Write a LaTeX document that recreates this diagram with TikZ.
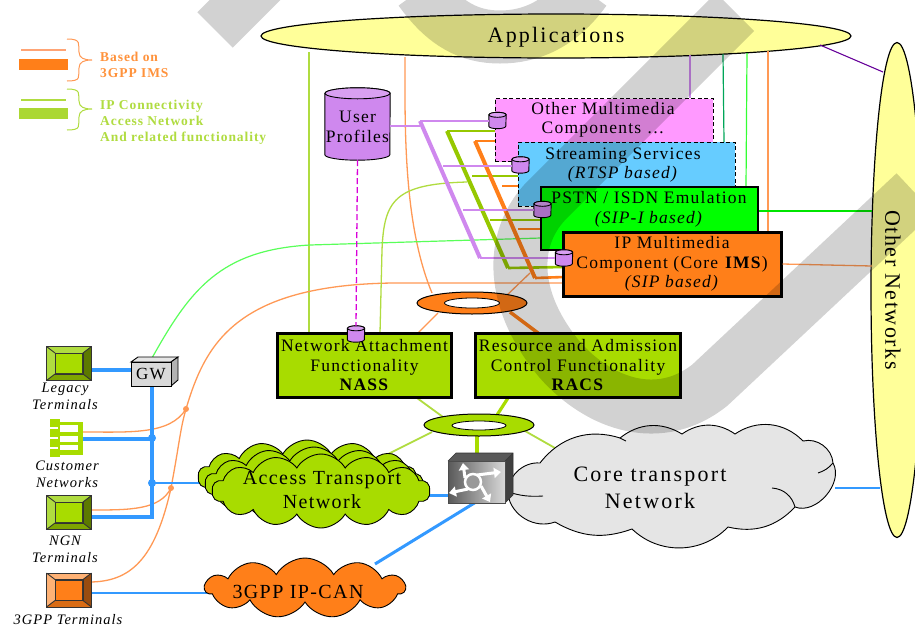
\documentclass[tikz,border=0pt]{standalone}
\usepackage{fontspec}
\usepackage{xcolor}
\usepackage{tikz}
\usetikzlibrary{shapes.geometric,shapes.symbols,arrows.meta}
\setmainfont[LetterSpace=7]{Liberation Serif}
\newfontfamily\bigfont[LetterSpace=10]{Liberation Serif}

\definecolor{appyellow}{HTML}{FFFF99}
\definecolor{imsorange}{HTML}{FF7F19}
\definecolor{thinorange}{HTML}{FF9955}
\definecolor{nassgreen}{HTML}{A8DC00}
\definecolor{thingreen}{HTML}{B0DC40}
\definecolor{bargreen}{HTML}{96C800}
\definecolor{udfpurple}{HTML}{CF88EE}
\definecolor{netblue}{HTML}{3399FF}
\definecolor{wmgray}{HTML}{D2D2D2}
\definecolor{otherpink}{HTML}{FF99FF}
\definecolor{streamblue}{HTML}{66CCFF}

\tikzset{
  boxtext/.style={font=\fontsize{17.5}{19.5}\selectfont,align=center,inner sep=0pt},
  termtext/.style={font=\fontsize{14.5}{17}\selectfont\itshape,align=center,inner sep=0pt},
  solidbox/.style={draw,line width=2.5pt,boxtext},
  dashbox/.style={draw,line width=1pt,dash pattern=on 4pt off 2.5pt,boxtext},
  ring/.style={ellipse,draw,line width=1pt,inner sep=0pt},
  hole/.style={ellipse,draw,fill=white,line width=.8pt,inner sep=0pt},
  netcloud/.style={cloud,draw,line width=.9pt,inner sep=0pt,align=center},
  termnode/.style={draw=black!80,line width=.9pt,inner sep=0pt,minimum width=44pt,minimum height=33pt},
  terminner/.style={draw=black!80,line width=.9pt,inner sep=0pt,minimum width=27pt,minimum height=20pt},
  blueline/.style={draw=netblue,line width=3.5pt},
  thinor/.style={draw=thinorange,line width=1.3pt},
  thingr/.style={draw=thingreen,line width=1.3pt},
  barline/.style={line width=4pt},
  branch/.style={line width=2.6pt},
  legendtext/.style={font=\fontsize{13.5}{16}\selectfont\bfseries,align=left,inner sep=0pt,anchor=west},
  dotnode/.style={circle,inner sep=0pt,minimum size=#1}
}

% terminal icon with bevelled edges
\newcommand{\termbox}[7]{
  \node[termnode,fill=#4] (#1) at (#2,#3) {};
  \node[terminner,fill=#4] (#1i) at (#2,#3) {};
  \fill[#5] (#1.north west)--(#1.north east)--(#1i.north east)--(#1i.north west)--cycle;
  \fill[#5] (#1.north west)--(#1.south west)--(#1i.south west)--(#1i.north west)--cycle;
  \fill[#6] (#1.north east)--(#1.south east)--(#1i.south east)--(#1i.north east)--cycle;
  \fill[#7] (#1.south west)--(#1.south east)--(#1i.south east)--(#1i.south west)--cycle;
  \draw[black!80,line width=.9pt] (#1.north west)--(#1i.north west) (#1.north east)--(#1i.north east)
    (#1.south west)--(#1i.south west) (#1.south east)--(#1i.south east);
  \draw[black!80,line width=.9pt] (#1i.south west) rectangle (#1i.north east);
  \draw[black!80,line width=.9pt] (#1.south west) rectangle (#1.north east);
}

% database can: name, x, y, width, height, end radius, colour
\newcommand{\dbcan}[7]{
  \pgfmathsetmacro{\canrx}{#4/2}
  \node[inner sep=0pt,minimum width=#4pt,minimum height=#5pt] (#1) at (#2,#3) {};
  \filldraw[fill=#7,line width=.9pt] ([yshift=-#6pt]#1.north west) -- ([yshift=#6pt]#1.south west)
    arc[start angle=180,end angle=360,x radius=\canrx pt,y radius=#6pt] -- ([yshift=-#6pt]#1.north east)
    arc[start angle=0,end angle=180,x radius=\canrx pt,y radius=#6pt] -- cycle;
  \filldraw[fill=#7!80!white,line width=.9pt] ([yshift=-#6pt]#1.north) ellipse[x radius=\canrx pt,y radius=#6pt];
}

\begin{document}
\begin{tikzpicture}[x=1pt,y=-1pt]
  \useasboundingbox (0,0) rectangle (915,627);
  \clip (0,0) rectangle (915,627);
  \fill[white] (0,0) rectangle (915,627);

  % legend
  \draw[draw=thinorange!70!pink,line width=1.2pt] (21,50) -- (66,50);
  \fill[imsorange] (19,59) rectangle (68,70);
  \draw[thinorange,line width=1pt] (67,39) .. controls (82,39) and (78,44) .. (79,52) .. controls (79,58) and (84,60) .. (92,60)
    .. controls (84,60) and (79,62) .. (79,68) .. controls (78,77) and (82,81) .. (67,81);
  \node[legendtext,text=imsorange!85!white] (legims) at (100,64.5) {Based on\\3GPP IMS};
  \draw[thingreen,line width=1.2pt] (21,100) -- (66,100);
  \fill[thingreen!80!bargreen] (19,108) rectangle (68,119);
  \draw[thingreen,line width=1pt] (67,89) .. controls (82,89) and (78,94) .. (79,101) .. controls (79,107) and (84,109) .. (92,109)
    .. controls (84,109) and (79,111) .. (79,117) .. controls (78,126) and (82,130) .. (67,130);
  \node[legendtext,text=thingreen] (legip) at (100,122.5) {IP Connectivity\\Access Network\\And related functionality};

  % big ellipses
  \node[ellipse,draw,fill=appyellow,line width=1.2pt,inner sep=0pt,minimum width=590pt,minimum height=44pt] (apps) at (556,36) {};
  \node[inner sep=0pt,font=\bigfont\fontsize{22}{24}\selectfont] (appslabel) at (556,37) {Applications};
  \node[ellipse,draw,fill=appyellow,line width=1.2pt,inner sep=0pt,minimum width=52pt,minimum height=495pt] (others) at (897,290) {};
  \node[rotate=-90,font=\fontsize{22}{24}\selectfont,inner sep=0pt] (otherlabel) at (893,290) {Other Networks};

  % lines from the applications
  \coordinate (appa) at (309,52);
  \coordinate (appb) at (405,57);
  \coordinate (appc) at (690,55);
  \coordinate (appd) at (723,54);
  \coordinate (appe) at (747,53);
  \coordinate (appf) at (768,51);
  \coordinate (appg) at (820,45);
  \coordinate (otherp) at (883,72);
  \coordinate (ringtop) at (432,293);
  \coordinate (pinkup) at (690,98);
  \draw[thingr] (appa) -- (309,333);
  \draw[thinor] (appb) -- (405,93) .. controls (405,170) and (410,240) .. (ringtop);
  \draw[draw=udfpurple,line width=1.2pt] (appc) -- (pinkup);
  \draw[draw=teal!70!green,line width=1.2pt] (appd) -- (724,142);
  \draw[draw=green!80!white,line width=1.2pt] (appe) -- (746,187);
  \draw[thinor] (appf) -- (768,232);
  \draw[draw=violet!80!blue,line width=1.1pt] (appg) -- (otherp);

  % bars
  \coordinate (pbartop) at (420,121);
  \coordinate (pbarbot) at (480,258);
  \coordinate (gbartop) at (447,131);
  \coordinate (gbarbot) at (508,268);
  \coordinate (obartop) at (475,141);
  \coordinate (obarbot) at (535,278);
  \coordinate (pbtwo) at (443,166);
  \coordinate (pbthree) at (463,210);
  \coordinate (gbtwo) at (472,176);
  \coordinate (gbthree) at (490,220);
  \coordinate (obtwo) at (502,186);
  \coordinate (obthree) at (518,229);
  \coordinate (gjoin) at (467,182);

  % curved lines
  \coordinate (orin) at (563,283);
  \coordinate (gwin) at (541,238);
  \draw[thinor] (89,582) .. controls (130,582) and (155,560) .. (171,488)
    .. controls (180,440) and (180,430) .. (186,409)
    .. controls (205,345) and (235,285) .. (393,283) -- (orin);
  \draw[thinor] (83,432) .. controls (130,432) and (170,435) .. (186,409);
  \draw[thinor] (91,510) .. controls (130,510) and (160,510) .. (171,488);
  \draw[draw=green!65!white,line width=1.2pt] (152,358) .. controls (190,290) and (220,250) .. (310,245) -- (gwin);
  \draw[thingr] (380,333) -- (382,250) .. controls (384,200) and (395,184) .. (gjoin);

  % blue network lines
  \draw[blueline] (91,370) -- (131,370);
  \draw[blueline] (152,386) -- (152,517) -- (91,517);
  \draw[blueline] (83,439) -- (152,439);
  \draw[draw=netblue,line width=2.6pt] (152,483) -- (225,483);
  \draw[draw=netblue,line width=2.6pt] (91,593) -- (215,593);
  \draw[draw=netblue,line width=3pt] (425,495) -- (450,495);
  \draw[draw=netblue,line width=3pt] (375,564) -- (476,502);
  \draw[draw=netblue,line width=2.6pt] (835,488) -- (880,488);
  \node[dotnode=8pt,fill=netblue] (dotcust) at (152,438) {};
  \node[dotnode=8pt,fill=netblue] (dotacc) at (152,483) {};
  \node[dotnode=6pt,fill=thinorange] (dotora) at (186,409) {};
  \node[dotnode=6pt,fill=thinorange] (dotorb) at (171,488) {};

  % bars and their branches
  \draw[draw=bargreen,branch] (gbartop) -- (497,131);
  \draw[draw=bargreen,branch] (gbtwo) -- (519,176);
  \draw[draw=bargreen,branch] (gbthree) -- (542,220);
  \draw[draw=bargreen,branch] (gbarbot) -- (564,267);
  \draw[draw=imsorange,branch] (obartop) -- (497,141);
  \draw[draw=imsorange,branch] (obtwo) -- (519,186);
  \draw[draw=imsorange,branch] (obthree) -- (542,229);
  \draw[draw=imsorange,branch] (obarbot) -- (564,277);
  \draw[draw=imsorange,barline] (obartop) -- (obarbot);
  \draw[draw=bargreen,barline] (gbartop) -- (gbarbot);
  \draw[draw=udfpurple,barline] (pbartop) -- (pbarbot);

  % service boxes
  \node[dashbox,fill=otherpink,minimum width=218pt,minimum height=63pt] (other) at (604,130) {};
  \node[boxtext] (otherlabel2) at (603,120) {Other Multimedia\\Components \dots};
  \node[dashbox,fill=streamblue,minimum width=217pt,minimum height=64pt] (stream) at (626.5,174) {};
  \node[boxtext] (streamlabel) at (623,165) {Streaming Services\\\textit{(RTSP based)}};
  \node[solidbox,fill=green,minimum width=217pt,minimum height=63pt] (pstn) at (649.5,218.5) {};
  \node[boxtext] (pstnlabel) at (649,209.5) {PSTN / ISDN Emulation\\\textit{(SIP-I based)}};
  \node[solidbox,line width=3pt,fill=imsorange,minimum width=218pt,minimum height=64pt] (ims) at (672,264) {IP Multimedia\\Component (Core \textbf{IMS})\\\textit{(SIP based)}};

  % links to the other networks
  \draw[draw=green!90!black,line width=2pt] (pstn.east |- 0,211) -- (872,211);
  \draw[thinor] (ims.east) -- (872,266);

  % rings and control lines
  \coordinate (oringr) at (530,273);
  \draw[thinor] (505,297) -- (oringr);
  \draw[thinor] (438,313) -- (418,333);
  \draw[draw=imsorange,line width=3.5pt] (510,312) -- (542,336);
  \node[ring,fill=imsorange,minimum width=110pt,minimum height=22pt] (ringo) at (472,303) {};
  \node[hole,minimum width=55pt,minimum height=10pt] (holeo) at (472,303) {};
  \draw[thingr,line width=1.8pt] (417,398) -- (443,417);
  \draw[draw=nassgreen,line width=3.2pt] (508,398) -- (497,415);
  \draw[thingr,line width=1.8pt] (432,432) -- (380,458);
  \draw[draw=nassgreen,line width=3.2pt] (477,436) -- (477,455);
  \draw[thingr,line width=1.8pt] (525,431) -- (555,448);
  \node[ring,fill=nassgreen,minimum width=110pt,minimum height=22pt] (ringg) at (479,425) {};
  \node[hole,minimum width=54pt,minimum height=9pt] (holeg) at (479,425.5) {};

  % nass and racs
  \node[solidbox,fill=nassgreen,minimum width=174pt,minimum height=64pt] (nass) at (364.5,365.5) {Network Attachment\\Functionality\\\textbf{NASS}};
  \node[solidbox,fill=nassgreen,minimum width=205pt,minimum height=64pt] (racs) at (578,365.5) {Resource and Admission\\Control Functionality\\\textbf{RACS}};

  % user profiles
  \dbcan{profiles}{357.5}{124}{65}{72}{5.5}{udfpurple}
  \node[boxtext] (profilelabel) at (357.5,127) {User\\Profiles};
  \dbcan{cylpink}{497.5}{120.5}{17}{16}{2.5}{udfpurple}
  \dbcan{cylblue}{520.5}{165}{17}{16}{2.5}{udfpurple}
  \dbcan{cylgreen}{542.5}{209.5}{17}{16}{2.5}{udfpurple}
  \dbcan{cylims}{564}{258}{17}{16}{2.5}{udfpurple}
  \dbcan{cylnass}{356}{334}{17}{16}{2.5}{udfpurple}
  \draw[draw=violet!30!magenta,line width=1.3pt,dash pattern=on 6pt off 3pt] (profiles.south) -- (cylnass.north);
  \draw[draw=udfpurple,branch] (profiles.east |- 0,126) -- (pbartop |- 0,126);
  \draw[draw=udfpurple,branch] (pbartop) -- (cylpink.west |- 0,121);
  \draw[draw=udfpurple,branch] (pbtwo) -- (cylblue.west |- 0,166);
  \draw[draw=udfpurple,branch] (pbthree) -- (cylgreen.west |- 0,210);
  \draw[draw=udfpurple,branch] (pbarbot) -- (cylims.west |- 0,258);

  % clouds
  \node[netcloud,fill=nassgreen,cloud puffs=14,cloud puff arc=120,aspect=3,minimum width=218pt,minimum height=74pt] (accessc) at (307,477) {};
  \node[netcloud,fill=nassgreen,cloud puffs=14,cloud puff arc=120,aspect=3,minimum width=218pt,minimum height=74pt] (accessb) at (314,484) {};
  \node[netcloud,fill=nassgreen,cloud puffs=14,cloud puff arc=120,aspect=3,minimum width=218pt,minimum height=74pt] (accessa) at (321,491) {};
  \node[boxtext,font=\fontsize{20}{24}\selectfont] (accesslabel) at (322,490) {Access Transport\\Network};
  \filldraw[fill=black!10,line width=.9pt] (540,463) to[bend left=35] (620,438) to[bend left=35] (682,434) to[bend left=35] (735,434)
    to[bend left=40] (803,441) to[bend left=50] (833,463) to[bend left=70] (795,507) to[bend left=30] (728,527)
    to[bend left=45] (632,529) to[bend left=25] (555,522) to[bend left=50] (508,495) to[bend left=50] (540,463) -- cycle;
  \draw[line width=.9pt] (620,438) -- (626,441);
  \draw[line width=.9pt] (833,463) to[bend left=15] (818,473);
  \draw[line width=.9pt] (795,507) to[bend right=35] (772,488);
  \draw[line width=.9pt] (508,492) to[bend right=10] (543,496);
  \node[boxtext,font=\bigfont\fontsize{22}{27}\selectfont] (corelabel) at (650,488) {Core transport\\Network};
  \node[netcloud,fill=imsorange,cloud puffs=11,cloud puff arc=120,aspect=3.3,minimum width=200pt,minimum height=60pt] (ipcan) at (305,588) {};
  \node[boxtext,font=\fontsize{20}{24}\selectfont] (ipcanlabel) at (298,592) {3GPP IP-CAN};

  % switch
  \fill[black!65] (448,461) -- (456,453) -- (513,453) -- (505,461) -- cycle;
  \fill[black!75] (505,461) -- (513,453) -- (513,495) -- (505,503) -- cycle;
  \draw[black!80,line width=.6pt] (448,461) -- (456,453) -- (513,453) -- (513,495) -- (505,503) (505,461) -- (513,453);
  \node[draw=black!70,line width=.8pt,left color=black!65,right color=black!15,minimum width=57pt,minimum height=42pt,inner sep=0pt] (switch) at (476.5,482) {};
  \fill[black!40] (473,482) circle (7);
  \draw[white,line width=2.5pt] (473,482) circle (8);
  \draw[white,line width=3pt,-{Triangle[width=10pt,length=7pt]}] (465,478) -- (463,463);
  \draw[white,line width=3pt,-{Triangle[width=10pt,length=7pt]}] (477,475) -- (501,472);
  \draw[white,line width=3pt,-{Triangle[width=10pt,length=7pt]}] (481,486) -- (490,502);
  \draw[white,line width=3pt,-{Triangle[width=10pt,length=7pt]}] (468,489) -- (449,493);

  % gateway
  \fill[black!10,draw=black,line width=.9pt] (131,362) -- (138,357) -- (178,357) -- (171,362) -- cycle;
  \fill[black!30,draw=black,line width=.9pt] (171,362) -- (178,357) -- (178,380) -- (171,386) -- cycle;
  \node[draw,fill=black!15,line width=.9pt,minimum width=40pt,minimum height=24pt,inner sep=0pt,font=\fontsize{17}{18}\selectfont] (gw) at (151,374) {GW};

  % terminals
  \termbox{legacy}{69}{363.5}{nassgreen}{thingreen}{nassgreen!55!black}{nassgreen!75!black}
  \termbox{ngn}{69}{512.5}{nassgreen}{thingreen}{nassgreen!55!black}{nassgreen!75!black}
  \termbox{tgpp}{69}{590}{imsorange}{imsorange!60!white}{imsorange!60!black}{imsorange!85!black}
  \node[termtext] (legacylabel) at (65,396.5) {Legacy\\Terminals};
  \node[termtext] (custlabel) at (67,474.5) {Customer\\Networks};
  \node[termtext] (ngnlabel) at (65,549.5) {NGN\\Terminals};
  \node[termtext] (tgpplabel) at (68,619.5) {3GPP Terminals};

  % customer networks icon
  \fill[nassgreen] (58,422) rectangle (83,455);
  \fill[white] (60,425) rectangle (78,432);
  \fill[white] (60,436) rectangle (78,442);
  \fill[white] (60,445) rectangle (78,450);
  \node[fill=nassgreen,inner sep=0pt,minimum width=10pt,minimum height=8pt] (taba) at (55,423) {};
  \node[fill=nassgreen,inner sep=0pt,minimum width=10pt,minimum height=8pt] (tabb) at (55,433) {};
  \node[fill=nassgreen,inner sep=0pt,minimum width=10pt,minimum height=8pt] (tabc) at (55,442.5) {};
  \node[fill=nassgreen,inner sep=0pt,minimum width=10pt,minimum height=8pt] (tabd) at (55,452.5) {};

  % grey overlay
  \begin{scope}[blend mode=multiply]
    \draw[wmgray,line width=50pt] (215,30) -- (265,-20);
    \draw[wmgray,line width=53pt] (420,-10) .. controls (445,25) and (470,37) .. (500,37) .. controls (530,37) and (560,25) .. (585,-10);
    \draw[wmgray,line width=54pt] (735,12) -- (545,202) .. controls (510,240) and (510,300) .. (560,360)
      .. controls (600,405) and (660,425) .. (710,385) -- (915,193);
  \end{scope}
\end{tikzpicture}
\end{document}
